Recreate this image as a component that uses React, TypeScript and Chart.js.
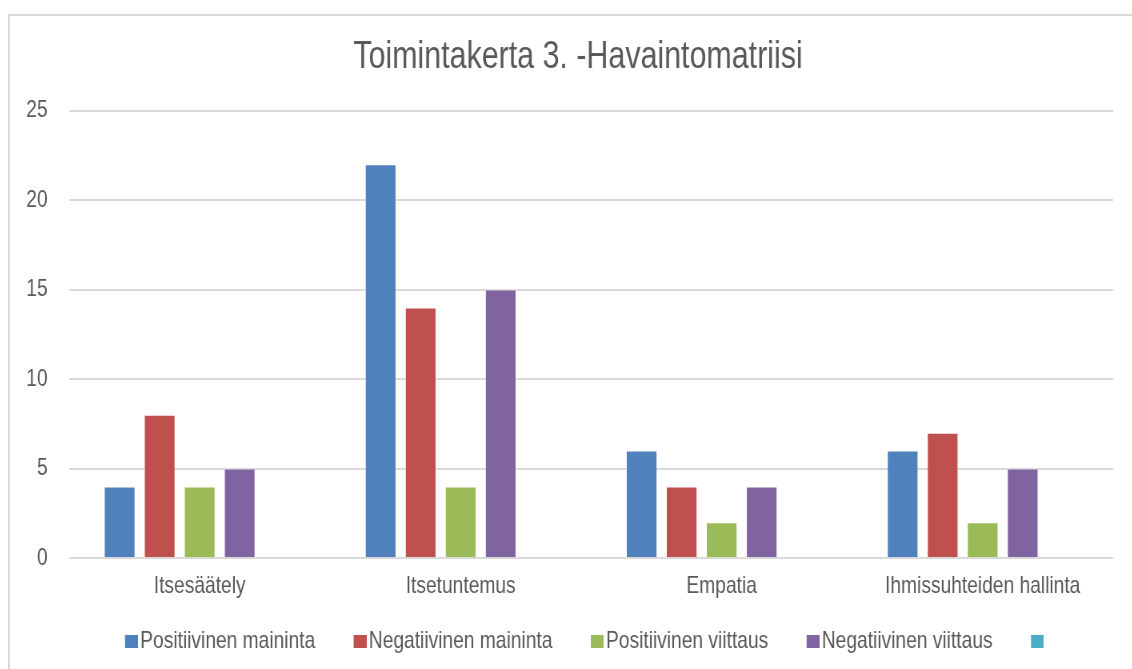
import React, { useEffect, useRef } from "react";
import { Chart, registerables } from "chart.js";

Chart.register(...registerables);

const title = "Toimintakerta 3. -Havaintomatriisi";
const categories = ["Itsesäätely", "Itsetuntemus", "Empatia", "Ihmissuhteiden hallinta"];
const seriesNames = ["Positiivinen maininta", "Negatiivinen maininta", "Positiivinen viittaus", "Negatiivinen viittaus", ""];
const positiivinenMaininta = [4, 22, 6, 6];
const negatiivinenMaininta = [8, 14, 4, 7];
const positiivinenViittaus = [4, 4, 2, 2];
const negatiivinenViittaus = [5, 15, 4, 5];
const tyhja: (number | null)[] = [null, null, null, null];
const seriesColors = ["#4F81BD", "#C0504D", "#9BBB59", "#8064A2", "#4BACC6"];
const yTicks = [0, 5, 10, 15, 20, 25];

// The reference uses a condensed face; it is emulated by drawing the canvas
// wider and showing it horizontally compressed (SX).
const SX = 0.8;
const CSS_W = 1136;
const CSS_H = 653;
const INT_W = Math.round(CSS_W / SX);

const FONT = "'Liberation Sans', Arial, sans-serif";
const TEXT = "#595959";

function makeSwatch(color: string) {
  const c = document.createElement("canvas");
  c.width = 44;
  c.height = 13;
  const g = c.getContext("2d");
  if (g) {
    g.fillStyle = color;
    g.fillRect(28, 0, 16, 13);
  }
  return c;
}

export default function App() {
  const ref = useRef<HTMLCanvasElement>(null);
  useEffect(() => {
    if (!ref.current) return;
    const values = [positiivinenMaininta, negatiivinenMaininta, positiivinenViittaus, negatiivinenViittaus, tyhja];
    const chart = new Chart(ref.current, {
      type: "bar",
      data: {
        labels: categories,
        datasets: values.map((v, i) => ({
          label: seriesNames[i],
          data: v,
          backgroundColor: seriesColors[i],
          borderColor: "rgba(255,255,255,0.35)",
          borderWidth: 1,
          barPercentage: 0.783,
          categoryPercentage: 0.7666,
        })),
      },
      options: {
        animation: false,
        responsive: false,
        devicePixelRatio: 1,
        layout: { padding: { left: 0, right: 0, top: 0, bottom: 6 } },
        plugins: {
          title: {
            display: true,
            text: title,
            color: TEXT,
            font: { family: FONT, size: 38, weight: "normal" },
            padding: { top: 19, bottom: 30 },
          },
          legend: {
            display: true,
            position: "bottom",
            labels: {
              color: TEXT,
              font: { family: FONT, size: 24 },
              usePointStyle: true,
              pointStyleWidth: 26,
              boxWidth: 26,
              boxHeight: 13,
              padding: 29,
              generateLabels: (c: any) => {
                const items = (Chart.defaults.plugins.legend.labels as any).generateLabels(c);
                items.forEach((it: any, i: number) => {
                  it.pointStyle = makeSwatch(seriesColors[i]);
                });
                return items;
              },
            },
          },
          tooltip: { enabled: false },
        },
        scales: {
          x: {
            grid: { display: false, drawTicks: false },
            border: { display: false },
            ticks: { color: TEXT, font: { family: FONT, size: 24 }, padding: 14, maxRotation: 0, autoSkip: false },
            afterFit: (axis: any) => {
              axis.height = 42;
            },
          },
          y: {
            min: 0,
            max: 25,
            grid: { color: "#d9d9d9", lineWidth: 2, drawTicks: false },
            border: { display: false },
            afterBuildTicks: (axis: any) => {
              axis.ticks = yTicks.map((v) => ({ value: v }));
            },
            afterFit: (axis: any) => {
              axis.width = 74;
            },
            ticks: { color: TEXT, font: { family: FONT, size: 24 }, padding: 27 },
          },
          yRight: {
            type: "linear",
            axis: "y",
            position: "right",
            display: true,
            grid: { display: false, drawTicks: false },
            border: { display: false },
            ticks: { display: false },
            afterFit: (axis: any) => {
              axis.width = 41;
            },
          },
        },
      } as any,
    });
    return () => chart.destroy();
  }, []);
  return (
    <div
      style={{
        position: "absolute",
        left: 8,
        top: 14,
        width: 1124,
        height: 655,
        boxSizing: "border-box",
        borderLeft: "2px solid #d9d9d9",
        borderTop: "2px solid #d9d9d9",
        background: "#fff",
        overflow: "hidden",
      }}
    >
      <canvas
        ref={ref}
        width={INT_W}
        height={CSS_H}
        style={{ width: CSS_W + "px", height: CSS_H + "px", display: "block" }}
      />
    </div>
  );
}
